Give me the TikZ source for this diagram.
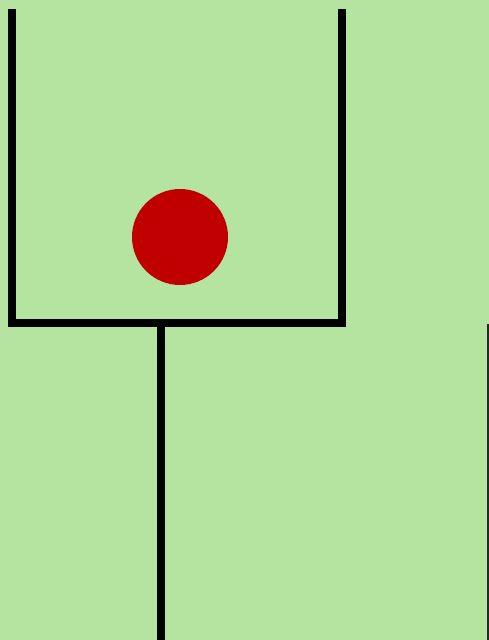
\documentclass[tikz,border=0pt]{standalone}
\usepackage{tikz}
\definecolor{cupgreen}{RGB}{180, 228, 160}
\definecolor{cupred}{RGB}{192, 0, 0}

\begin{document}
\begin{tikzpicture}[
    x=0.02cm, y=-0.02cm,
    wall/.style={line width=8*0.02cm, draw=black},
    edge/.style={line width=2*0.02cm, draw=black!85},
    ball/.style={circle, fill=cupred, minimum size=96*0.02cm, inner sep=0pt}
  ]
    % background
    \fill[cupgreen] (0,0) rectangle (489,640);
    \useasboundingbox (0,0) rectangle (489,640);

    % cup
    \coordinate (tl) at (12,9);
    \coordinate (bl) at (12,323);
    \coordinate (br) at (342,323);
    \coordinate (tr) at (342,9);
    \draw[wall, line join=miter] (tl) -- (bl) -- (br) -- (tr);

    % stem
    \coordinate (stemtop) at (161,323);
    \coordinate (stembot) at (161,640);
    \draw[wall] (stemtop) -- (stembot);

    % right edge
    \coordinate (etop) at (488,324);
    \coordinate (ebot) at (488,640);
    \draw[edge] (etop) -- (ebot);

    % ball
    \node[ball] (dot) at (180,237) {};
  \end{tikzpicture}
\end{document}
